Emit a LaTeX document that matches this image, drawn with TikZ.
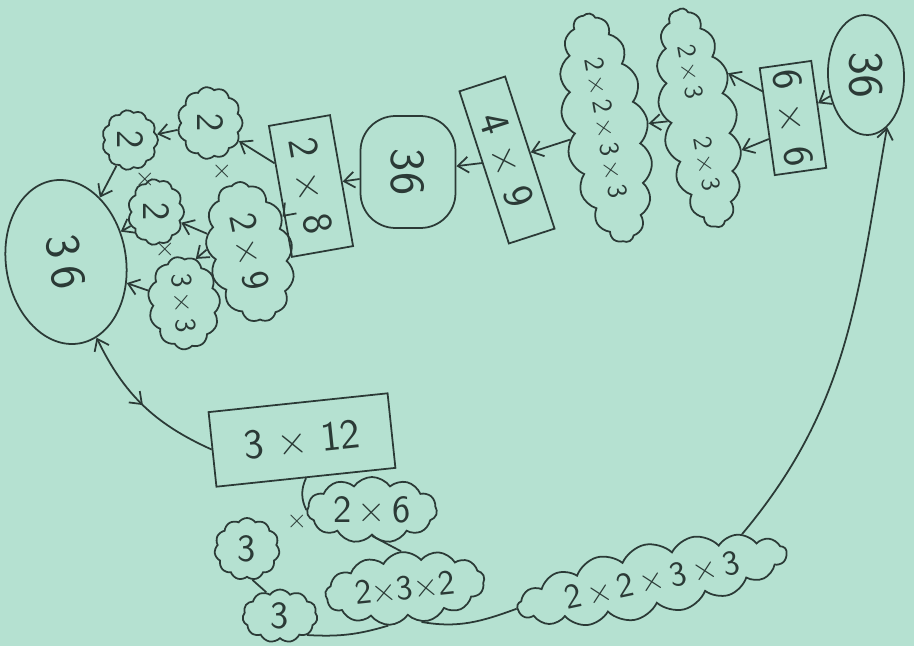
\documentclass[tikz,border=0pt]{standalone}
\usepackage{tikz}
\usetikzlibrary{shapes.geometric, shapes.symbols, arrows.meta, decorations.markings}
\definecolor{paper}{HTML}{B5E1D1}
\definecolor{ink}{HTML}{2B3A36}

\tikzset{
	box/.style={draw=ink, text=ink, line width=1pt, rectangle, inner sep=0pt,
		font=\sffamily\fontsize{24}{28}\selectfont},
	oval/.style={draw=ink, text=ink, line width=1pt, ellipse, inner sep=0pt,
		font=\sffamily\fontsize{28}{32}\selectfont},
	puff/.style={draw=ink, text=ink, line width=1pt, cloud, cloud puffs=11,
		cloud puff arc=110, cloud ignores aspect, inner sep=0pt,
		font=\sffamily\fontsize{22}{26}\selectfont},
	times/.style={text=ink, inner sep=0pt, font=\sffamily\fontsize{16}{18}\selectfont},
	link/.style={draw=ink, line width=1pt},
}

\begin{document}
\begin{tikzpicture}[x=0.02cm, y=0.02cm, >={Straight Barb[length=6pt,width=9pt]}]
	
	% Paper
	\fill[paper] (0,0) rectangle (914,-646);
	\useasboundingbox (0,0) rectangle (914,-646);
	
	% --- Top row, right to left ---
	\node[oval, rotate=-88, minimum width=2.4cm, minimum height=1.52cm]
	(e36r) at (866,-75) {36};
	\node[box, rotate=-82, minimum width=2.16cm, minimum height=1.04cm]
	(r66) at (793,-118) {6 × 6};
	\node[puff, rotate=-80, cloud puffs=17, minimum width=4.44cm, minimum height=1.52cm,
	font=\sffamily\fontsize{15}{18}\selectfont]
	(c23) at (699,-118) {2\,×\,3\hspace{22pt}2\,×\,3};
	\node[puff, rotate=-80, cloud puffs=17, minimum width=4.64cm, minimum height=1.68cm,
	font=\sffamily\fontsize{16}{18}\selectfont]
	(c2233) at (606,-128) {2\,×\,2\,×\,3\,×\,3};
	\node[box, rotate=-72, minimum width=3.2cm, minimum height=0.96cm]
	(r49) at (507,-160) {4 × 9};
	\node[box, rounded corners=0.7cm, rotate=-90, minimum width=2.24cm, minimum height=1.9cm,
	font=\sffamily\fontsize{28}{32}\selectfont]
	(e36m) at (408,-172) {36};
	\node[box, rotate=-80, minimum width=2.66cm, minimum height=1.24cm]
	(r28) at (311,-186) {2 × 8};
	
	% Small clouds
	\node[puff, rotate=-90, minimum width=1.44cm, minimum height=1.3cm]
	(c2t) at (210,-123) {2};
	\node[puff, rotate=-90, minimum width=1.2cm, minimum height=1.12cm]
	(c2a) at (130,-140) {2};
	\node[puff, rotate=-90, minimum width=1.32cm, minimum height=1.12cm]
	(c2b) at (156,-212) {2};
	\node[puff, rotate=-78, cloud puffs=13, minimum width=2.84cm, minimum height=1.7cm]
	(c29) at (250,-252) {2\,×\,9};
	\node[puff, rotate=-85, minimum width=1.86cm, minimum height=1.44cm,
	font=\sffamily\fontsize{17}{20}\selectfont]
	(c33) at (184,-303) {3\,×\,3};
	\node[oval, rotate=-81, minimum width=3.3cm, minimum height=2.4cm]
	(e36l) at (66,-262) {3\,6};
	
	% Times signs
	\node[times] (m1) at (222,-172) {×};
	\node[times] (m2) at (145,-180) {×};
	\node[times] (m3) at (165,-250) {×};
	\node[times] (m4) at (297,-522) {×};
	
	% --- Bottom row ---
	\node[box, rotate=6, minimum width=3.6cm, minimum height=1.5cm]
	(r312) at (302,-440) {3 × 12};
	\node[puff, minimum width=2.6cm, minimum height=1.32cm]
	(c26) at (372,-510) {2\,×\,6};
	\node[puff, minimum width=1.3cm, minimum height=1.24cm]
	(c3a) at (247,-549) {3};
	\node[puff, minimum width=1.5cm, minimum height=1.06cm]
	(c3b) at (280,-616) {3};
	\node[puff, rotate=6, cloud puffs=13, minimum width=3.2cm, minimum height=1.44cm,
	font=\sffamily\fontsize{20}{24}\selectfont]
	(c232) at (405,-588) {2×3×2};
	\node[puff, rotate=12, cloud puffs=17, minimum width=5.5cm, minimum height=1.44cm,
	font=\sffamily\fontsize{20}{24}\selectfont]
	(c2233b) at (652,-580) {2\,×\,2\,×\,3\,×\,3};
	
	% --- Connectors ---
	\draw[link, ->] (e36r) -- (r66);
	\draw[link, ->] (r66.221) -- (c23.137);
	\draw[link, ->] (r66.303) -- (c23.43);
	\draw[link, ->] (c23) -- (c2233);
	\draw[link, ->] (c2233) -- (r49);
	\draw[link, ->] (r49) -- (e36m);
	\draw[link, ->] (e36m) -- (r28);
	\draw[link, ->] (r28) -- (c2t);
	\draw[link, ->] (r28) -- (c29);
	\draw[link, ->] (c2t) -- (c2a);
	\draw[link, ->] (c29) -- (c2b);
	\draw[link, ->] (c29.255) -- (c33.160);
	\draw[link, ->] (c2a) -- (e36l);
	\draw[link, ->] (c2b) -- (e36l);
	\draw[link, ->] (c33) -- (e36l);
	
	% Back down to 3 x 12
	\draw[link, <-, postaction={decorate},
	decoration={markings, mark=at position 0.5 with {\arrow{>}}}]
	(e36l.13) to[bend right=20] (r312.west);
	\draw[link] (r312.south) to[bend right=25] (c26.west);
	\draw[link] (c3a.-80) -- (c3b.120);
	\draw[link] (c26.south) -- (c232.north);
	\draw[link] (c3b.-35) to[bend right=10] (c232.240);
	\draw[link] (c232.-70) to[out=-10, in=200] (c2233b.west);
	
	% Round to the top
	\draw[link, ->] (c2233b.15) to[out=50, in=260] (e36r.20);
	
\end{tikzpicture}
\end{document}
